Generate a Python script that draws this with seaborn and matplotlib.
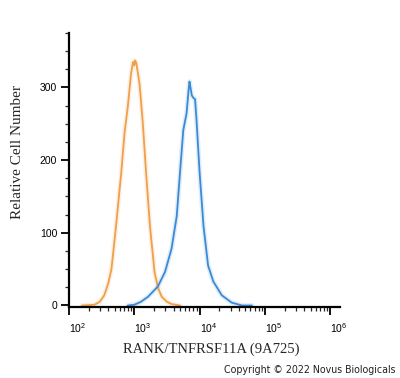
import numpy as np
import pandas as pd
import matplotlib
matplotlib.use("Agg")
import matplotlib.pyplot as plt
import seaborn as sns
from matplotlib.ticker import LogLocator, FixedLocator, LogFormatterMathtext, NullFormatter

# Histogram outlines (log10 intensity, count)
orange_log = [2.20, 2.39, 2.47, 2.54, 2.60, 2.65, 2.72, 2.80, 2.85, 2.90, 2.95, 2.98,
              3.00, 3.01, 3.03, 3.08, 3.13, 3.18, 3.24, 3.31, 3.36, 3.42, 3.50, 3.57, 3.70]
orange_cnt = [0, 1, 5, 14, 30, 50, 109, 183, 237, 273, 319, 335,
              330, 337, 334, 305, 251, 183, 109, 46, 25, 12, 5, 2, 0]

blue_log = [2.90, 3.00, 3.10, 3.21, 3.36, 3.47, 3.57, 3.65, 3.70, 3.75, 3.78, 3.80, 3.83,
            3.845, 3.86, 3.88, 3.91, 3.93, 3.95, 4.00, 4.06, 4.13, 4.21, 4.34, 4.49, 4.65, 4.80]
blue_cnt = [0, 1, 5, 12, 26, 46, 78, 123, 183, 241, 255, 264, 295,
            308, 300, 289, 285, 284, 259, 183, 109, 55, 33, 14, 4, 0, 0]

y_ticks = [0, 100, 200, 300]
x_label = "RANK/TNFRSF11A (9A725)"
y_label = "Relative Cell Number"
credit = "Copyright \u00a9 2022 Novus Biologicals"

df = pd.concat([
    pd.DataFrame({"x": 10 ** np.array(orange_log), "count": orange_cnt, "sample": "isotype"}),
    pd.DataFrame({"x": 10 ** np.array(blue_log), "count": blue_cnt, "sample": "RANK"}),
])

sns.set_style("ticks")
plt.rcParams["font.family"] = ["Liberation Sans", "DejaVu Sans"]
plt.rcParams["mathtext.fontset"] = "custom"
plt.rcParams["mathtext.rm"] = "Liberation Sans"

fig = plt.figure(figsize=(4.0, 3.78), dpi=100)
ax = fig.add_axes([0.1725, 0.188, 0.6775, 0.725])

palette = {"isotype": "#f0a04a", "RANK": "#3a8ad6"}
# soft halo like the original jpeg
sns.lineplot(data=df, x="x", y="count", hue="sample", palette=palette, ax=ax,
             linewidth=3.5, alpha=0.15, legend=False, sort=False)
sns.lineplot(data=df, x="x", y="count", hue="sample", palette=palette, ax=ax,
             linewidth=1.3, legend=False, sort=False)

ax.set_xscale("log")
ax.set_xlim(100, 10 ** 6.15)
ax.set_ylim(-2, 375)

ax.set_yticks(y_ticks)
ax.yaxis.set_minor_locator(FixedLocator(np.arange(25, 376, 25)))
ax.xaxis.set_major_locator(LogLocator(base=10, numticks=10))
ax.xaxis.set_minor_locator(LogLocator(base=10, subs=np.arange(2, 10), numticks=50))
ax.xaxis.set_major_formatter(LogFormatterMathtext())
ax.xaxis.set_minor_formatter(NullFormatter())

ax.tick_params(which="major", direction="out", length=5.5, width=1.3, labelsize=7.5,
               colors="black")
ax.tick_params(axis="y", which="major", pad=3)
ax.tick_params(axis="x", which="major", pad=5)
ax.tick_params(which="minor", direction="out", length=3, width=0.9)
for lab in ax.get_xticklabels():
    lab.set_horizontalalignment("left")

for side in ["top", "right"]:
    ax.spines[side].set_visible(False)
for side in ["left", "bottom"]:
    ax.spines[side].set_linewidth(1.6)
    ax.spines[side].set_color("black")

ax.set_xlabel(x_label, fontfamily="Liberation Serif", fontsize=10.5)
ax.xaxis.set_label_coords(0.524, -0.13)
ax.set_ylabel(y_label, fontfamily="Liberation Serif", fontsize=11)
ax.yaxis.set_label_coords(-0.165, 0.566)

fig.text(0.988, 0.022, credit, ha="right", va="center", fontsize=6.85,
         fontfamily="DejaVu Sans", color="#222222")

fig.savefig("out.png", dpi=100)
